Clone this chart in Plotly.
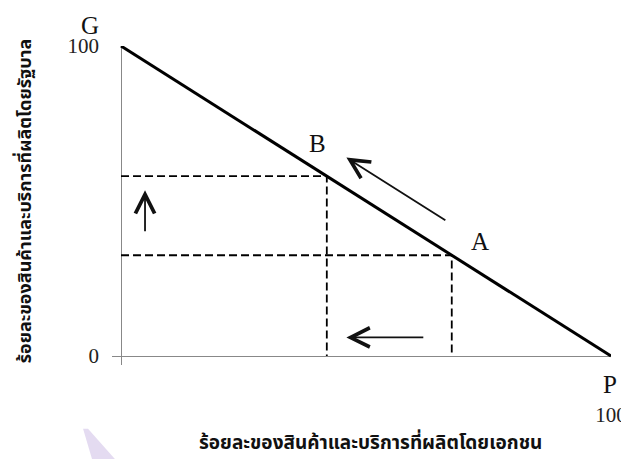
"""Production possibility line between government (G) and private (P) output"""

import plotly.graph_objects as go

# percentage of output produced by the private sector (x) / government (y)
frontier_x = [0, 100]
frontier_y = [100, 0]

point_names = ["A", "B"]
point_x = [67.5, 42]
point_y = [32.5, 58]

x_ticks = [100]
y_ticks = [0, 100]

x_title = "ร้อยละของสินค้าและบริการที่ผลิตโดยเอกชน"
y_title = "ร้อยละของสินค้าและบริการที่ผลิตโดยรัฐบาล"

SERIF = "Liberation Serif, Times New Roman, serif"
THAI = "Noto Sans Thai, Noto Sans Thai Looped, Loma, Garuda, Noto Sans, sans-serif"

fig = go.Figure()

# dashed guides from each point to both axes
for px, py in zip(point_x, point_y):
    fig.add_trace(
        go.Scatter(
            x=[0, px, px],
            y=[py, py, 0],
            mode="lines",
            line=dict(color="black", width=1.8, dash="8px,4px"),
            hoverinfo="skip",
            showlegend=False,
        )
    )

fig.add_trace(
    go.Scatter(
        x=frontier_x,
        y=frontier_y,
        mode="lines",
        line=dict(color="black", width=3),
        cliponaxis=False,
        showlegend=False,
    )
)

a_x, b_x = point_x
a_y, b_y = point_y

annotations = [
    # point labels
    dict(x=a_x, y=a_y, text="A", xshift=28, yshift=14),
    dict(x=b_x, y=b_y, text="B", xshift=-9, yshift=33),
    dict(x=0, y=100, text="G", xshift=-31, yshift=21),
    dict(x=100, y=0, text="P", xshift=-1, yshift=-28),
]
for a in annotations:
    a.update(showarrow=False, font=dict(family=SERIF, size=25, color="#111"))

arrow_style = dict(
    showarrow=True, text="", axref="x", ayref="y",
    arrowhead=5, arrowsize=2.1, arrowwidth=1.8, arrowcolor="#111",
)
title_font = dict(family=THAI, size=19, color="#111", weight="bold")
annotations += [
    # movement along the line from A to B
    dict(x=b_x + 4, y=110 - (b_x + 4), ax=a_x - 1, ay=110 - (a_x - 1), **arrow_style),
    # private share falls
    dict(x=b_x + 4, y=6, ax=a_x - 5.5, ay=6, **arrow_style),
    # government share rises
    dict(x=4.9, y=b_y - 4.5, ax=4.9, ay=a_y + 7.3, **arrow_style),
    # axis titles
    dict(
        text=x_title, xref="paper", yref="paper", x=0.519, y=-0.245,
        xanchor="center", yanchor="middle", showarrow=False, font=title_font,
    ),
    dict(
        text=y_title, xref="paper", yref="paper", x=-0.174, y=0.514, textangle=-90,
        xanchor="center", yanchor="middle", showarrow=False,
        font={**title_font, "size": 18},
    ),
]

axis_common = dict(
    showgrid=False,
    zeroline=True,
    zerolinecolor="#888",
    zerolinewidth=1,
    showline=False,
    ticks="inside",
    ticklen=9,
    tickcolor="#888",
    tickfont=dict(family=SERIF, size=21, color="#222"),
    fixedrange=True,
    automargin=False,
)

# the page body adds an 8px margin, so the figure is 8px smaller on each side
fig.update_layout(
    width=621,
    height=451,
    margin=dict(l=104, r=18, t=38, b=94),
    paper_bgcolor="white",
    plot_bgcolor="white",
    xaxis=dict(range=[-1.84, 100], tickvals=x_ticks, ticklabelstandoff=35, **axis_common),
    yaxis=dict(range=[-2.9, 100], tickvals=y_ticks, ticklabelstandoff=12, **axis_common),
    annotations=annotations,
    shapes=[
        # faint lavender watermark in the lower-left corner
        dict(
            type="path", xref="paper", yref="paper",
            path="M -0.058,-0.2 L -0.048,-0.2 L 0.006,-0.295 L -0.04,-0.295 Z",
            fillcolor="#e4dbf1", line=dict(width=0), layer="below",
        )
    ],
)

fig.write_html("out.html")
